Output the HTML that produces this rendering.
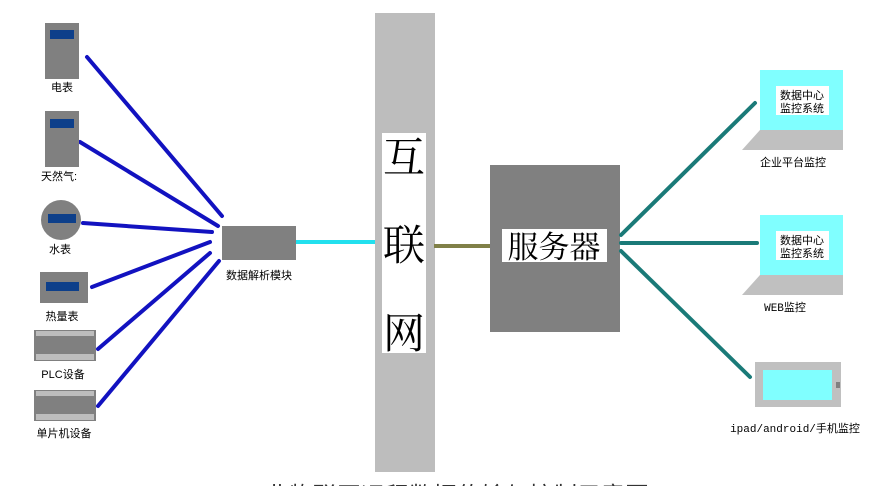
<!DOCTYPE html>
<html><head><meta charset="utf-8"><style>
body{margin:0;background:#fff;}
svg{display:block;}
text{font-family:"Liberation Sans","Noto Sans CJK SC",sans-serif;}
.s{font-family:"Liberation Serif","Noto Serif CJK SC",serif;}
.m{font-family:"Liberation Mono","Noto Sans CJK SC",monospace;}
</style></head><body>
<svg width="880" height="486" viewBox="0 0 880 486">
<rect width="880" height="486" fill="#fff"/>
<g stroke="#1212c0" stroke-width="4" stroke-linecap="round">
<line x1="87" y1="57" x2="222" y2="216"/>
<line x1="80" y1="142" x2="218" y2="226"/>
<line x1="83" y1="223" x2="212" y2="232"/>
<line x1="92" y1="287" x2="210" y2="242"/>
<line x1="98" y1="349" x2="210" y2="253"/>
<line x1="98" y1="406" x2="219" y2="261"/>
</g>
<rect x="45" y="23" width="34" height="56" fill="#808080"/><rect x="50" y="30" width="24" height="9" fill="#0d3f8a"/>
<text x="62" y="91" font-size="11" text-anchor="middle">电表</text>
<rect x="45" y="111" width="34" height="56" fill="#808080"/><rect x="50" y="119" width="24" height="9" fill="#0d3f8a"/>
<text x="59" y="180" font-size="11" text-anchor="middle">天然气:</text>
<circle cx="61" cy="220" r="20" fill="#808080"/><rect x="48" y="214" width="28" height="9" fill="#0d3f8a"/>
<text x="60" y="253" font-size="11" text-anchor="middle">水表</text>
<rect x="40" y="272" width="48" height="31" fill="#808080"/><rect x="46" y="282" width="33" height="9" fill="#0d3f8a"/>
<text x="62" y="320" font-size="11" text-anchor="middle">热量表</text>
<rect x="34" y="330" width="62" height="31" fill="#808080"/><rect x="36" y="331" width="58" height="5" fill="#bdbdbd"/><rect x="36" y="354" width="58" height="6" fill="#bdbdbd"/>
<text x="63" y="378" font-size="11" text-anchor="middle">PLC设备</text>
<rect x="34" y="390" width="62" height="31" fill="#808080"/><rect x="36" y="391" width="58" height="5" fill="#bdbdbd"/><rect x="36" y="414" width="58" height="6" fill="#bdbdbd"/>
<text x="64" y="437" font-size="11" text-anchor="middle">单片机设备</text>
<rect x="222" y="226" width="74" height="34" fill="#808080"/>
<text x="259" y="279" font-size="11" text-anchor="middle">数据解析模块</text>
<line x1="296" y1="242" x2="376" y2="242" stroke="#22e0ee" stroke-width="4"/>
<rect x="375" y="13" width="60" height="459" fill="#bdbdbd"/>
<rect x="382" y="133" width="44" height="220" fill="#fff"/>
<text class="s" x="404" y="172" font-size="42" text-anchor="middle">互</text>
<text class="s" x="404" y="260" font-size="42" text-anchor="middle">联</text>
<text class="s" x="404" y="348" font-size="42" text-anchor="middle">网</text>
<line x1="434" y1="246" x2="490" y2="246" stroke="#808048" stroke-width="4"/>
<rect x="490" y="165" width="130" height="167" fill="#808080"/>
<rect x="502" y="229" width="105" height="33" fill="#fff"/>
<text class="s" x="554" y="258" font-size="31" text-anchor="middle">服务器</text>
<g stroke="#1a7a78" stroke-width="4" stroke-linecap="round">
<line x1="621" y1="235" x2="755" y2="103"/>
<line x1="621" y1="243" x2="757" y2="243"/>
<line x1="621" y1="251" x2="750" y2="377"/>
</g>
<rect x="760" y="70" width="83" height="60" fill="#80ffff"/>
<polygon points="760,130 843,130 843,150 742,150" fill="#c0c0c0"/>
<rect x="776" y="86" width="53" height="29" fill="#fff"/>
<text x="802" y="99" font-size="11" text-anchor="middle">数据中心</text>
<text x="802" y="112" font-size="11" text-anchor="middle">监控系统</text>
<text x="793" y="166" font-size="11" text-anchor="middle">企业平台监控</text>
<rect x="760" y="215" width="83" height="60" fill="#80ffff"/>
<polygon points="760,275 843,275 843,295 742,295" fill="#c0c0c0"/>
<rect x="776" y="231" width="53" height="29" fill="#fff"/>
<text x="802" y="244" font-size="11" text-anchor="middle">数据中心</text>
<text x="802" y="257" font-size="11" text-anchor="middle">监控系统</text>
<text class="m" x="785" y="311" font-size="11" text-anchor="middle">WEB监控</text>
<rect x="755" y="362" width="86" height="45" fill="#c0c0c0"/>
<rect x="763" y="370" width="69" height="30" fill="#80ffff"/>
<rect x="836" y="382" width="4" height="6" fill="#808080"/>
<text class="m" x="795" y="432" font-size="11" text-anchor="middle">ipad/android/手机监控</text>
<text x="445" y="504" font-size="24" text-anchor="middle" fill="#333">工业物联网远程数据传输与控制示意图</text>
</svg>
</body></html>
